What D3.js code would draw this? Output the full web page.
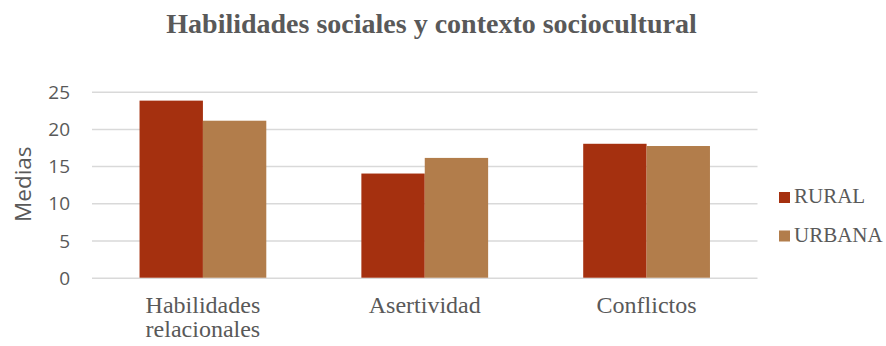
<!DOCTYPE html>
<html>
<head>
<meta charset="utf-8">
<script src="https://cdn.jsdelivr.net/npm/d3@7"></script>
<style>
  body { margin: 0; background: #fff; }
  svg { display: block; }
</style>
</head>
<body>
<svg id="chart" width="886" height="346"></svg>
<script>
// Category labels (split into lines) and the mean score of each group
const categories = ["Habilidades relacionales", "Asertividad", "Conflictos"];
const categoryLines = [["Habilidades", "relacionales"], ["Asertividad"], ["Conflictos"]];
const seriesNames = ["RURAL", "URBANA"];
const rural = [23.8, 14.0, 18.0];
const urbana = [21.1, 16.1, 17.7];
const yTicks = [0, 5, 10, 15, 20, 25];
const colors = ["#a5300f", "#b27d4b"];

const svg = d3.select("#chart");
const plot = { left: 92, right: 757.5, top: 91.7, bottom: 277.7 };

const x0 = d3.scaleBand().domain(categories).range([plot.left, plot.right]).padding(0);
const step = x0.bandwidth();
const x1 = d3.scaleBand().domain(seriesNames).range([step * 0.2143, step * 0.7857]).padding(0);
const y = d3.scaleLinear().domain([0, 25]).range([plot.bottom, plot.top]);

const textGray = "#595959";
const serif = "'Liberation Serif', 'Times New Roman', serif";
const sans = "'Open Sans', sans-serif";

// Title
svg.append("text")
  .attr("x", 431.5).attr("y", 33)
  .attr("text-anchor", "middle")
  .attr("font-family", serif)
  .attr("font-weight", "bold")
  .attr("font-size", 28)
  .attr("fill", textGray)
  .text("Habilidades sociales y contexto sociocultural");

// Horizontal gridlines and value ticks
const yAxis = d3.axisLeft(y).tickValues(yTicks).tickSize(-(plot.right - plot.left)).tickPadding(22);
const gy = svg.append("g").attr("transform", `translate(${plot.left},0)`).call(yAxis);
gy.select(".domain").remove();
gy.selectAll(".tick line").attr("stroke", "#d9d9d9").attr("stroke-width", 1.5);
gy.selectAll(".tick text")
  .attr("font-family", sans)
  .attr("font-size", 19)
  .attr("fill", textGray)
  .attr("dy", "0.35em");

// Axis title
svg.append("text")
  .attr("transform", `translate(31,${(plot.top + plot.bottom) / 2 - 0.5}) rotate(-90)`)
  .attr("text-anchor", "middle")
  .attr("font-family", sans)
  .attr("font-size", 22.5)
  .attr("fill", textGray)
  .text("Medias");

// Bars
const data = categories.map((c, i) => ({ cat: c, values: [rural[i], urbana[i]] }));
const groups = svg.append("g").selectAll("g").data(data).join("g")
  .attr("transform", d => `translate(${x0(d.cat)},0)`);
groups.selectAll("rect")
  .data(d => d.values.map((v, j) => ({ s: seriesNames[j], v, j })))
  .join("rect")
  .attr("x", d => x1(d.s))
  .attr("width", x1.bandwidth())
  .attr("y", d => y(d.v))
  .attr("height", d => y(0) - y(d.v))
  .attr("fill", d => colors[d.j]);

// Category labels
const xl = svg.append("g");
categories.forEach((c, i) => {
  const cx = x0(c) + step / 2;
  const t = xl.append("text")
    .attr("x", cx)
    .attr("y", 312.5)
    .attr("text-anchor", "middle")
    .attr("font-family", serif)
    .attr("font-size", 24)
    .attr("fill", textGray);
  categoryLines[i].forEach((line, k) => {
    t.append("tspan").attr("x", cx).attr("dy", k === 0 ? 0 : 24.5).text(line);
  });
});

// Legend
const legend = svg.append("g").selectAll("g").data(seriesNames).join("g")
  .attr("transform", (d, i) => `translate(779,${192 + i * 38.5})`);
legend.append("rect").attr("width", 11).attr("height", 11).attr("fill", (d, i) => colors[i]);
legend.append("text")
  .attr("x", 15).attr("y", 11)
  .attr("font-family", serif)
  .attr("font-size", 21)
  .attr("fill", textGray)
  .text(d => d);
</script>
</body>
</html>
